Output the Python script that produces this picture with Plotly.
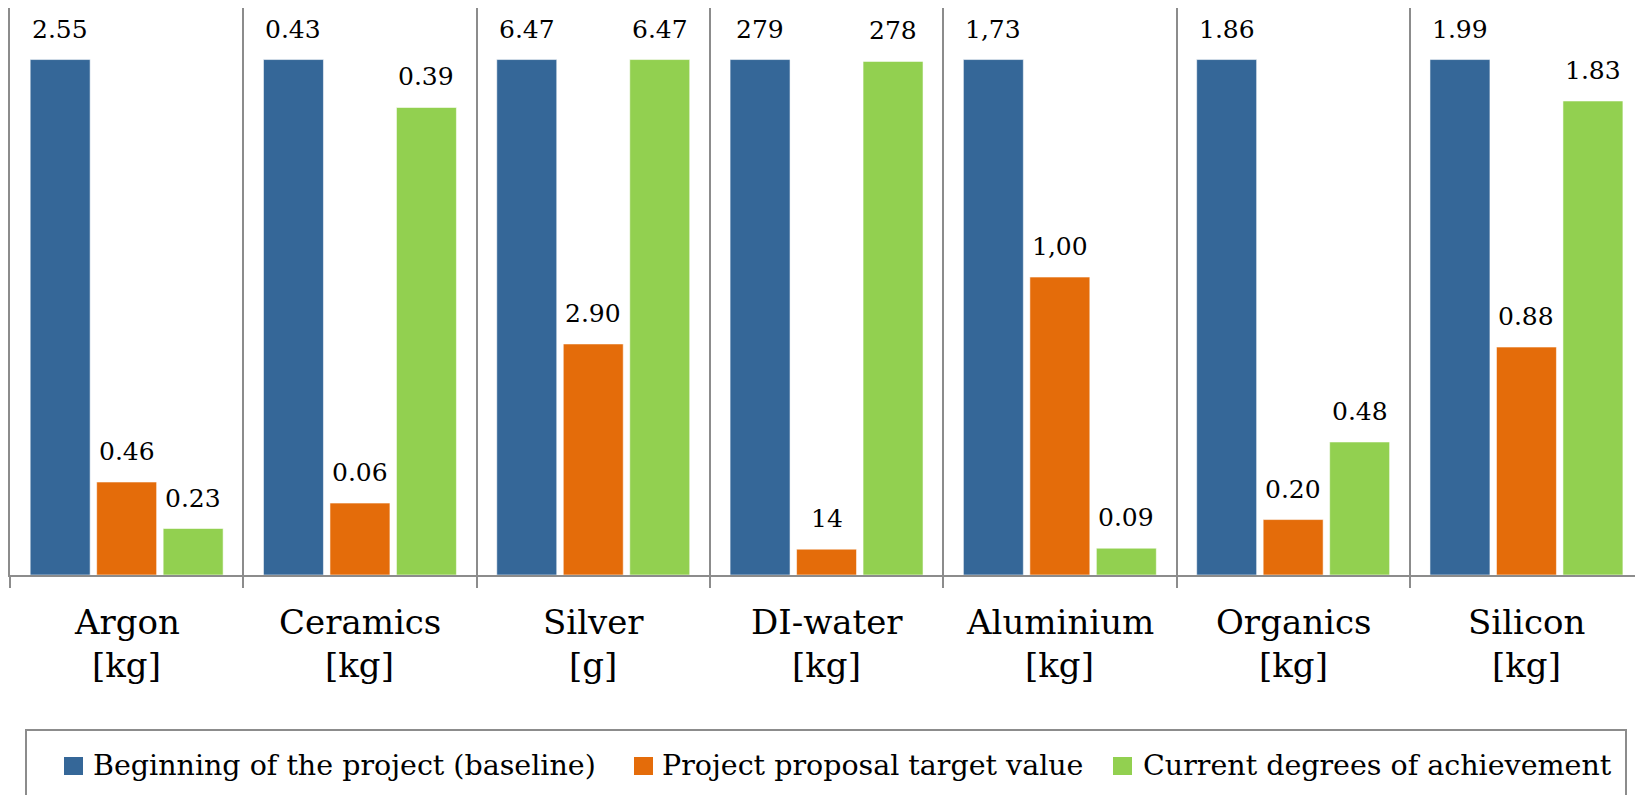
import plotly.graph_objects as go

# Materials and units
materials = ["Argon", "Ceramics", "Silver", "DI-water", "Aluminium", "Organics", "Silicon"]
units = ["[kg]", "[kg]", "[g]", "[kg]", "[kg]", "[kg]", "[kg]"]

# Printed values for each series (as written on the chart)
baseline_txt = ["2.55", "0.43", "6.47", "279", "1,73", "1.86", "1.99"]
target_txt = ["0.46", "0.06", "2.90", "14", "1,00", "0.20", "0.88"]
current_txt = ["0.23", "0.39", "6.47", "278", "0.09", "0.48", "1.83"]

series_names = [
    "Beginning of the project (baseline)",
    "Project proposal target value",
    "Current degrees of achievement",
]
series_colors = ["#356798", "#E46C0A", "#92D050"]


def to_num(s):
    return float(s.replace(",", "."))


baseline = [to_num(s) for s in baseline_txt]
target = [to_num(s) for s in target_txt]
current = [to_num(s) for s in current_txt]

# Each material is shown relative to its own baseline
series_txt = [baseline_txt, target_txt, current_txt]
series_rel = [
    [v / b for v, b in zip(vals, baseline)]
    for vals in (baseline, target, current)
]

# Page geometry (pixels)
W, H = 1635, 795
PL, PT, PB = 10, 8, 575
CAT_W = 233.3
PLOT_W = W - PL
PLOT_H = PB - PT

BAR_W = 0.257
SHIFTS = [-0.285, 0.0, 0.285]

FONT = "DejaVu Serif"


def px_x(px):
    return (px - PL) / PLOT_W


def px_y(py):
    return (PB - py) / PLOT_H


fig = go.Figure()
xs = list(range(len(materials)))
for k in range(3):
    fig.add_trace(go.Bar(
        x=xs,
        y=series_rel[k],
        name=series_names[k],
        width=BAR_W,
        offset=SHIFTS[k] - BAR_W / 2,
        marker=dict(color=series_colors[k],
                    line=dict(color="rgba(255,255,255,0.55)", width=1)),
        showlegend=False,
        hoverinfo="skip",
    ))

annotations = []
# value labels above every bar
for k in range(3):
    for i in xs:
        annotations.append(dict(
            x=i + SHIFTS[k], y=series_rel[k][i], xref="x", yref="y",
            text=series_txt[k][i], showarrow=False,
            xanchor="center", yanchor="bottom", yshift=14,
            font=dict(family=FONT, size=25, color="#000000"),
        ))

# category labels (two lines)
for i in xs:
    annotations.append(dict(
        x=i, y=px_y(622), xref="x", yref="paper", text=materials[i],
        showarrow=False, xanchor="center", yanchor="middle",
        font=dict(family=FONT, size=34, color="#000000"),
    ))
    annotations.append(dict(
        x=i, y=px_y(665), xref="x", yref="paper", text=units[i],
        showarrow=False, xanchor="center", yanchor="middle",
        font=dict(family=FONT, size=34, color="#000000"),
    ))

# legend built from swatches and labels
shapes = [dict(
    type="rect", xref="paper", yref="paper",
    x0=px_x(26), x1=px_x(1626), y0=px_y(730), y1=px_y(800),
    line=dict(color="#8c8c8c", width=2), fillcolor="rgba(0,0,0,0)",
)]
swatch_x = [64, 634, 1113]
text_x = [91, 660, 1141]
for k in range(3):
    shapes.append(dict(
        type="rect", xref="paper", yref="paper",
        x0=px_x(swatch_x[k]), x1=px_x(swatch_x[k] + 19),
        y0=px_y(775), y1=px_y(757),
        line=dict(width=0), fillcolor=series_colors[k],
    ))
    annotations.append(dict(
        x=px_x(text_x[k]), y=px_y(765), xref="paper", yref="paper",
        text=series_names[k], showarrow=False,
        xanchor="left", yanchor="middle",
        font=dict(family=FONT, size=28.5, color="#000000"),
    ))

fig.update_layout(
    width=W, height=H,
    margin=dict(l=PL, r=0, t=PT, b=H - PB, pad=0),
    paper_bgcolor="white", plot_bgcolor="white",
    font=dict(family=FONT),
    barmode="overlay",
    annotations=annotations,
    shapes=shapes,
    showlegend=False,
    xaxis=dict(
        range=[-0.5, -0.5 + PLOT_W / CAT_W],
        tickmode="array",
        tickvals=[i - 0.5 for i in xs],
        ticktext=["" for _ in xs],
        ticks="outside", ticklen=11, tickwidth=2, tickcolor="#8c8c8c",
        showgrid=True, gridcolor="#8c8c8c", gridwidth=2,
        showline=True, linecolor="#8c8c8c", linewidth=2,
        zeroline=False, fixedrange=True,
    ),
    yaxis=dict(
        range=[0, 1.1],
        showticklabels=False, showgrid=False, zeroline=False,
        showline=True, linecolor="#8c8c8c", linewidth=2,
        ticks="", fixedrange=True,
    ),
)

fig.write_html("out.html", config={"displayModeBar": False})
